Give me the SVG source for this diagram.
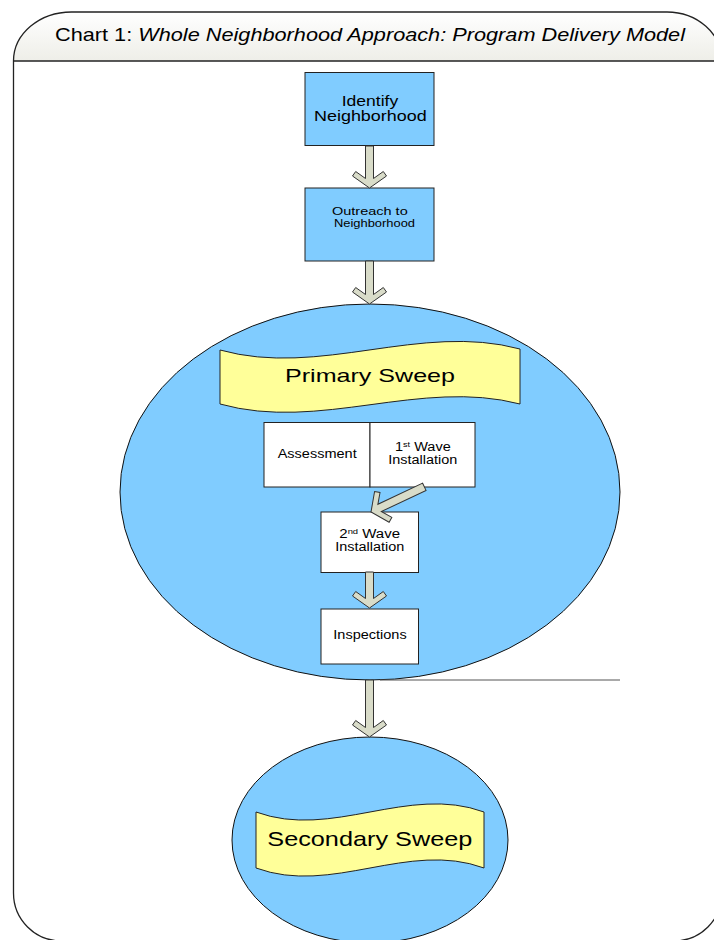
<svg xmlns="http://www.w3.org/2000/svg" width="714" height="940" viewBox="0 0 714 940">
<defs>
<linearGradient id="hdr" x1="0" y1="0" x2="0" y2="1">
<stop offset="0" stop-color="#ffffff"/>
<stop offset="1" stop-color="#eeeee8"/>
</linearGradient>
</defs>
<style>
text{font-family:"Liberation Sans",Arial,sans-serif;fill:#000}
.box{fill:#80ccff;stroke:#222;stroke-width:1}
.wbox{fill:#ffffff;stroke:#222;stroke-width:1}
.ell{fill:#80ccff;stroke:#111;stroke-width:1}
.ban{fill:#ffff99;stroke:#222;stroke-width:1}
.arr{fill:#d9dcc9;stroke:#333;stroke-width:1;stroke-linejoin:miter}
</style>
<rect x="0" y="0" width="714" height="940" fill="#ffffff"/>
<g id="frame">
<path d="M13.5,61 A58,49 0 0 1 71.5,12 L667,12 A55,49 0 0 1 722,61 Z" fill="url(#hdr)"/>
<path d="M13.5,893 L13.5,61 A58,49 0 0 1 71.5,12 L667,12 A55,49 0 0 1 722,61 L722,893 A48,48 0 0 1 674,941 L61.5,941 A48,48 0 0 1 13.5,893 Z" fill="none" stroke="#222" stroke-width="1.3"/>
<line x1="13.5" y1="61" x2="722" y2="61" stroke="#222" stroke-width="1.3"/>
<text x="55" y="41" font-size="19" textLength="630" lengthAdjust="spacingAndGlyphs">Chart 1: <tspan font-style="italic">Whole Neighborhood Approach: Program Delivery Model</tspan></text>
</g>
<g id="primary-sweep-area">
<ellipse class="ell" cx="370" cy="492" rx="250" ry="188"/>
<line x1="380" y1="680" x2="620" y2="680" stroke="#555" stroke-width="1"/>
</g>
<g id="secondary-sweep-area">
<ellipse class="ell" cx="370" cy="840" rx="138" ry="103"/>
</g>
<g id="identify">
<rect class="box" x="305" y="72.5" width="129" height="73"/>
<text x="341.7" y="105.5" font-size="14.5" textLength="56.5" lengthAdjust="spacingAndGlyphs">Identify</text>
<text x="314" y="121" font-size="14.5" textLength="112.7" lengthAdjust="spacingAndGlyphs">Neighborhood</text>
</g>
<g id="outreach">
<rect class="box" x="305" y="188" width="129" height="73"/>
<text x="332" y="214.5" font-size="11" textLength="75.7" lengthAdjust="spacingAndGlyphs">Outreach to</text>
<text x="334" y="227" font-size="11" textLength="81" lengthAdjust="spacingAndGlyphs">Neighborhood</text>
</g>
<g id="primary-sweep">
<path class="ban" d="M220,350 C320,378 420,322 520,349 L520,404 C420,378 320,432 220,404 Z"/>
<text x="285" y="382" font-size="19" textLength="170" lengthAdjust="spacingAndGlyphs">Primary Sweep</text>
</g>
<g id="assessment">
<rect class="wbox" x="264" y="422.5" width="106" height="64.5"/>
<text x="277.7" y="458.3" font-size="12" textLength="79" lengthAdjust="spacingAndGlyphs">Assessment</text>
</g>
<g id="wave1">
<rect class="wbox" x="370" y="422.5" width="105" height="64.5"/>
<text x="395" y="451" font-size="12" textLength="55.7" lengthAdjust="spacingAndGlyphs">1<tspan font-size="7.5" dy="-4.5">st</tspan><tspan dy="4.5"> Wave</tspan></text>
<text x="388.3" y="464" font-size="12" textLength="69" lengthAdjust="spacingAndGlyphs">Installation</text>
</g>
<g id="wave2">
<rect class="wbox" x="321" y="512" width="97.5" height="60.5"/>
<text x="339.3" y="538.3" font-size="12" textLength="60.7" lengthAdjust="spacingAndGlyphs">2<tspan font-size="7.5" dy="-4.5">nd</tspan><tspan dy="4.5"> Wave</tspan></text>
<text x="335.3" y="551" font-size="12" textLength="69" lengthAdjust="spacingAndGlyphs">Installation</text>
</g>
<g id="inspections">
<rect class="wbox" x="321" y="609" width="97.5" height="55"/>
<text x="333.3" y="638.5" font-size="12" textLength="73.4" lengthAdjust="spacingAndGlyphs">Inspections</text>
</g>
<g id="secondary-sweep">
<path class="ban" d="M256,812 C332,840 408,784 484,812 L484,868 C408,840 332,896 256,868 Z"/>
<text x="267.3" y="846" font-size="21" textLength="205" lengthAdjust="spacingAndGlyphs">Secondary Sweep</text>
</g>
<g id="connectors">
<path class="arr" transform="translate(369.5,188)" d="M-4,-42 L4,-42 L4,-9.5 L13.8,-16.5 L17,-12 L0,0 L-17,-12 L-13.8,-16.5 L-4,-9.5 Z"/>
<path class="arr" transform="translate(369.5,304)" d="M-4,-43 L4,-43 L4,-9.5 L13.8,-16.5 L17,-12 L0,0 L-17,-12 L-13.8,-16.5 L-4,-9.5 Z"/>
<path class="arr" transform="translate(371,512) rotate(64.7)" d="M-4,-59 L4,-59 L4,-9.5 L13.8,-16.5 L17,-12 L0,0 L-17,-12 L-13.8,-16.5 L-4,-9.5 Z"/>
<path class="arr" transform="translate(369.5,608)" d="M-4,-36 L4,-36 L4,-9.5 L13.8,-16.5 L17,-12 L0,0 L-17,-12 L-13.8,-16.5 L-4,-9.5 Z"/>
<path class="arr" transform="translate(369.5,737)" d="M-4,-57 L4,-57 L4,-9.5 L13.8,-16.5 L17,-12 L0,0 L-17,-12 L-13.8,-16.5 L-4,-9.5 Z"/>
</g>
</svg>
